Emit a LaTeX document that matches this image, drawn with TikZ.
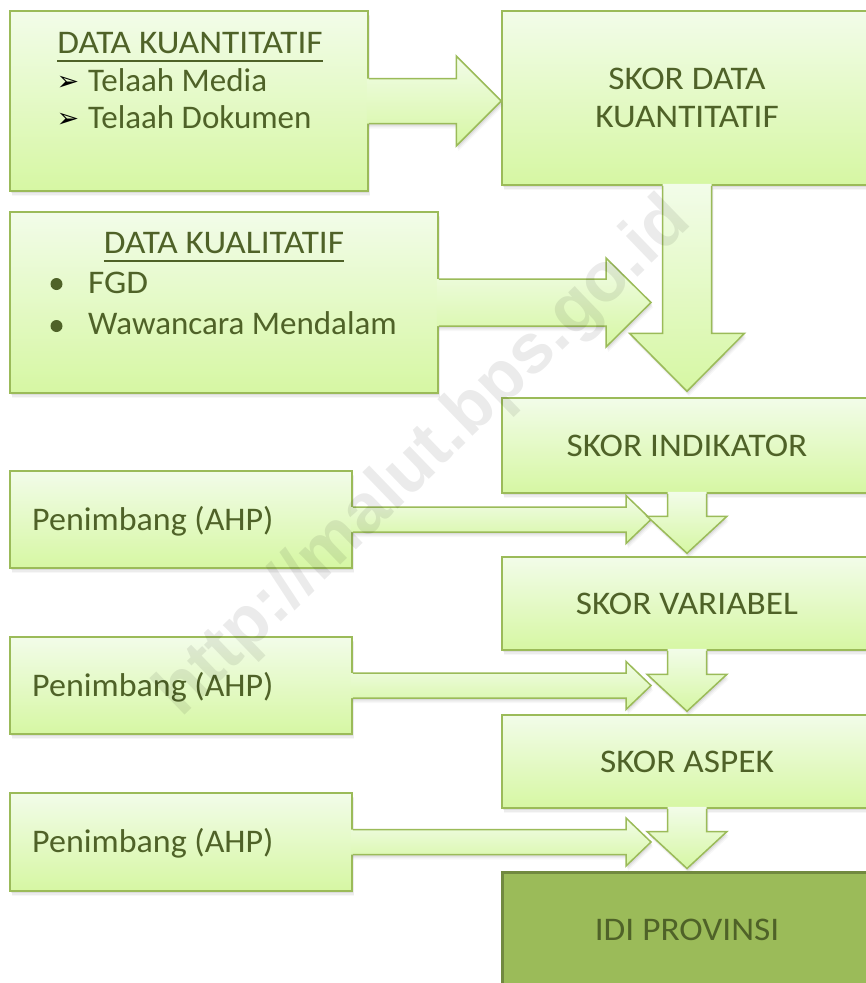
\documentclass[tikz,border=0pt]{standalone}
\usepackage{fontspec}
\setmainfont{Carlito}
\newfontfamily\capsf{Carlito}[FakeStretch=1.07]
\newfontfamily\penf{Carlito}[FakeStretch=1.03]
\newfontfamily\dejavu{DejaVu Sans}
\newfontfamily\wmfont{Liberation Sans}
\usetikzlibrary{shadows,calc}

\definecolor{txt}{HTML}{4F6228}
\definecolor{bord}{HTML}{9BBB59}
\definecolor{ftop}{HTML}{F2FCE9}
\definecolor{fbot}{HTML}{D6F7A3}
\definecolor{idifill}{HTML}{9BBB59}
\definecolor{idibord}{HTML}{71893F}

\tikzset{
  shad/.style={
    drop shadow={shadow xshift=2pt, shadow yshift=-5pt, opacity=0.06},
    drop shadow={shadow xshift=1.5pt, shadow yshift=-3.5pt, opacity=0.09},
    drop shadow={shadow xshift=1pt, shadow yshift=-2pt, opacity=0.14}},
  box/.style={rectangle, draw=bord, line width=1.5pt, top color=ftop, bottom color=fbot,
    inner sep=0pt, shad, text=txt, font=\capsf\fontsize{33}{38}\selectfont},
  onel/.style={text height=21pt, text depth=0pt},
  lbl/.style={text=txt, font=\fontsize{33}{38}\selectfont, inner sep=0pt},
  caps/.style={font=\capsf\fontsize{33}{38}\selectfont},
  pen/.style={font=\penf\fontsize{33}{38}\selectfont},
  bul/.style={anchor=base, inner sep=0pt, font=\dejavu\fontsize{27}{27}\selectfont},
  arrfill/.style={top color=ftop, bottom color=fbot, shad},
  arrline/.style={draw=bord, line width=1.5pt, line join=miter},
  uline/.style={draw=txt, line width=1.3pt},
  dot/.style={fill=txt},
}

% horizontal block arrow: start anchor, tip point (x used), shaft half, head half, head length
\newcommand\harrow[5]{%
  \path[arrfill] let \p1=(#1), \p2=(#2) in
    (\x1-2pt,\y1+#3pt) -- (\x2-#5pt,\y1+#3pt) -- (\x2-#5pt,\y1+#4pt) -- (\x2,\y1)
    -- (\x2-#5pt,\y1-#4pt) -- (\x2-#5pt,\y1-#3pt) -- (\x1-2pt,\y1-#3pt) -- cycle;
  \draw[arrline] let \p1=(#1), \p2=(#2) in
    (\x1,\y1+#3pt) -- (\x2-#5pt,\y1+#3pt) -- (\x2-#5pt,\y1+#4pt) -- (\x2,\y1)
    -- (\x2-#5pt,\y1-#4pt) -- (\x2-#5pt,\y1-#3pt) -- (\x1,\y1-#3pt);
}
% vertical block arrow: start anchor, target anchor, gap, shaft half, head half, head length
\newcommand\varrow[6]{%
  \path[arrfill] let \p1=(#1), \p2=(#2) in
    (\x1-#4pt,\y1+2pt) -- (\x1-#4pt,\y2+#3pt+#6pt) -- (\x1-#5pt,\y2+#3pt+#6pt) -- (\x1,\y2+#3pt)
    -- (\x1+#5pt,\y2+#3pt+#6pt) -- (\x1+#4pt,\y2+#3pt+#6pt) -- (\x1+#4pt,\y1+2pt) -- cycle;
  \draw[arrline] let \p1=(#1), \p2=(#2) in
    (\x1-#4pt,\y1) -- (\x1-#4pt,\y2+#3pt+#6pt) -- (\x1-#5pt,\y2+#3pt+#6pt) -- (\x1,\y2+#3pt)
    -- (\x1+#5pt,\y2+#3pt+#6pt) -- (\x1+#4pt,\y2+#3pt+#6pt) -- (\x1+#4pt,\y1);
}

\begin{document}
\begin{tikzpicture}[x=1pt,y=-1pt]
\useasboundingbox[fill=white] (0,0) rectangle (866,983);

% boxes
\node[box, minimum width=358pt, minimum height=180pt] (k1) at (189,101) {};
\node[box, minimum width=370pt, minimum height=174pt, align=center] (s1) at (687,98) {SKOR DATA\\KUANTITATIF};
\node[box, minimum width=428pt, minimum height=181pt] (k2) at (224,302.5) {};
\node[box, onel, minimum width=370pt, minimum height=95pt] (s2) at (687,445.5) {SKOR INDIKATOR};
\node[box, minimum width=342pt, minimum height=97pt] (p1) at (181,519.5) {};
\node[box, onel, minimum width=370pt, minimum height=93pt] (s3) at (687,603.5) {SKOR VARIABEL};
\node[box, minimum width=342pt, minimum height=97pt] (p2) at (181,685.5) {};
\node[box, onel, minimum width=370pt, minimum height=93pt] (s4) at (687,761.5) {SKOR ASPEK};
\node[box, minimum width=342pt, minimum height=98pt] (p3) at (181,842) {};
\node[box, onel, minimum width=370pt, minimum height=116pt, draw=idibord, line width=3pt,
      top color=idifill, bottom color=idifill] (idi) at (687,930) {IDI PROVINSI};

% box texts
\node[lbl, caps, anchor=base] (h1) at (190,53) {DATA KUANTITATIF};
\draw[uline] ([yshift=-8pt]h1.base west) -- ([yshift=-8pt]h1.base east);
\node[bul] (b1) at (68,90) {➢};
\node[lbl, anchor=base west] (i1) at (88,91) {Telaah Media};
\node[bul] (b2) at (68,127) {➢};
\node[lbl, anchor=base west] (i2) at (88,128) {Telaah Dokumen};

\node[lbl, caps, anchor=base] (h2) at (224,253) {DATA KUALITATIF};
\draw[uline] ([yshift=-8pt]h2.base west) -- ([yshift=-8pt]h2.base east);
\fill[dot] (56.5,284) circle (6pt);
\node[lbl, caps, anchor=base west] (i3) at (88,293) {FGD};
\fill[dot] (56.5,326) circle (6pt);
\node[lbl, anchor=base west] (i4) at (88,334) {Wawancara Mendalam};

\node[lbl, pen, anchor=base west] (t1) at (32,530) {Penimbang (AHP)};
\node[lbl, pen, anchor=base west] (t2) at (32,696) {Penimbang (AHP)};
\node[lbl, pen, anchor=base west] (t3) at (32,852.5) {Penimbang (AHP)};

% horizontal arrows
\harrow{k1.east}{s1.west}{22.5}{45}{45}
\harrow{k2.east}{$(s1.south)+(-36,0)$}{23.5}{44.5}{45}
\harrow{p1.east}{$(s2.south)+(-36,0)$}{12.5}{24}{25}
\harrow{p2.east}{$(s3.south)+(-36,0)$}{12.5}{24}{25}
\harrow{p3.east}{$(s4.south)+(-36,0)$}{12.5}{24}{25}

% vertical arrows
\varrow{s1.south}{s2.north}{6}{24.5}{57.5}{58}
\varrow{s2.south}{s3.north}{3}{19.5}{40}{37}
\varrow{s3.south}{s4.north}{3}{19.5}{40}{37}
\varrow{s4.south}{idi.north}{2}{19.5}{40}{37}

% watermark
\node[rotate=44, text=black, text opacity=0.08, inner sep=0pt,
      font=\wmfont\bfseries\fontsize{70}{70}\selectfont] (wm) at (425,458) {http://malut.bps.go.id};
\end{tikzpicture}
\end{document}
